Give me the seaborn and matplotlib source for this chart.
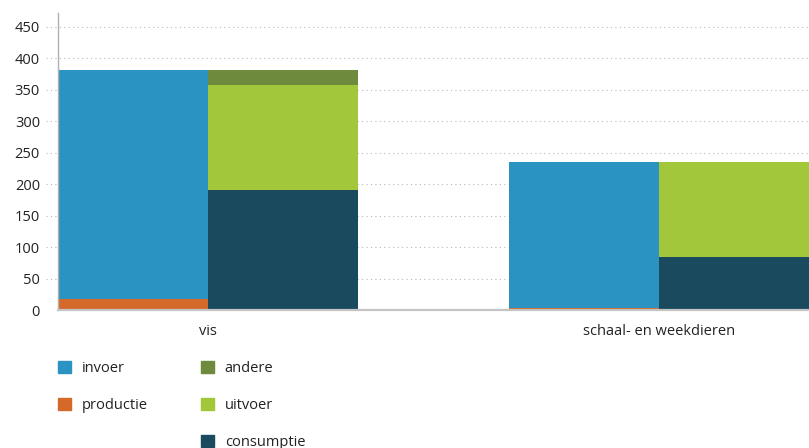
import matplotlib
matplotlib.use("Agg")
import matplotlib.pyplot as plt
import matplotlib.transforms as mtransforms
from matplotlib.patches import Patch
import pandas as pd
import seaborn as sns

# Data (duizend ton)
categories = ["vis", "schaal- en weekdieren"]
productie = [17, 3]
invoer = [365, 232]
consumptie = [190, 85]
uitvoer = [168, 150]
andere = [24, 0]

colors = {
    "invoer": "#2a93c1",
    "productie": "#d4692a",
    "andere": "#6e8b3d",
    "uitvoer": "#a2c73b",
    "consumptie": "#1a4a5e",
}

sns.set_theme(style="white")
plt.rcParams["font.family"] = ["Open Sans", "DejaVu Sans"]

fig = plt.figure(figsize=(8.09, 4.48), dpi=100)
ax = fig.add_axes([58 / 809, 138 / 448, 1 - 58 / 809, (310 - 13) / 448])

stacks = ["aanbod", "gebruik"]

# layers per stack, drawn as cumulative totals from the top layer down
left_layers = [("productie", productie), ("invoer", invoer)]
right_layers = [("consumptie", consumptie), ("uitvoer", uitvoer), ("andere", andere)]


def draw_stack(layers, stack):
    cum = [0] * len(categories)
    tops = []
    for name, vals in layers:
        cum = [c + v for c, v in zip(cum, vals)]
        tops.append((name, list(cum)))
    for name, tot in reversed(tops):
        df = pd.DataFrame({"categorie": categories, "waarde": tot, "stapel": stack})
        sns.barplot(
            data=df, x="categorie", y="waarde", hue="stapel",
            hue_order=stacks, order=categories,
            palette={s: colors[name] for s in stacks},
            width=0.666, dodge=True, linewidth=0, saturation=1,
            errorbar=None, legend=False, ax=ax,
        )


draw_stack(left_layers, "aanbod")
draw_stack(right_layers, "gebruik")

ax.set_xlim(-0.333, 1.333)
ax.set_ylim(0, 472)
yticks = list(range(0, 451, 50))
ax.set_yticks(yticks)
ax.set_xlabel("")
ax.set_ylabel("")

# dotted horizontal guide lines reaching slightly past the axis
trans = mtransforms.blended_transform_factory(ax.transAxes, ax.transData)
for t in yticks[1:]:
    ax.plot([-0.016, 1], [t, t], transform=trans, color="#b8b8b8",
            linestyle=(0, (1, 3)), linewidth=0.8, clip_on=False, zorder=0)

for s in ["top", "right"]:
    ax.spines[s].set_visible(False)
ax.spines["left"].set_color("#b0b0b0")
ax.spines["left"].set_linewidth(1.0)
ax.spines["bottom"].set_color("#c4c4c4")
ax.spines["bottom"].set_linewidth(1.6)
ax.spines["bottom"].set_zorder(5)

ax.tick_params(axis="y", length=0, pad=13, labelsize=10.5, labelcolor="#222222")
ax.tick_params(axis="x", length=0, pad=10, labelsize=10.5, labelcolor="#222222")
for lbl in ax.get_yticklabels():
    lbl.set_horizontalalignment("right")

handles = [
    Patch(color=colors["invoer"], label="invoer"),
    Patch(color=colors["productie"], label="productie"),
    Patch(color="none", label=""),
    Patch(color=colors["andere"], label="andere"),
    Patch(color=colors["uitvoer"], label="uitvoer"),
    Patch(color=colors["consumptie"], label="consumptie"),
]
fig.legend(
    handles=handles, ncol=2, loc="upper left",
    bbox_to_anchor=(45 / 809, 1 - 348 / 448),
    frameon=False, fontsize=10.5, handlelength=0.85, handleheight=0.85,
    handletextpad=0.75, columnspacing=3.7, labelspacing=1.5,
    labelcolor="#222222",
)

fig.savefig("out.png", dpi=100)
